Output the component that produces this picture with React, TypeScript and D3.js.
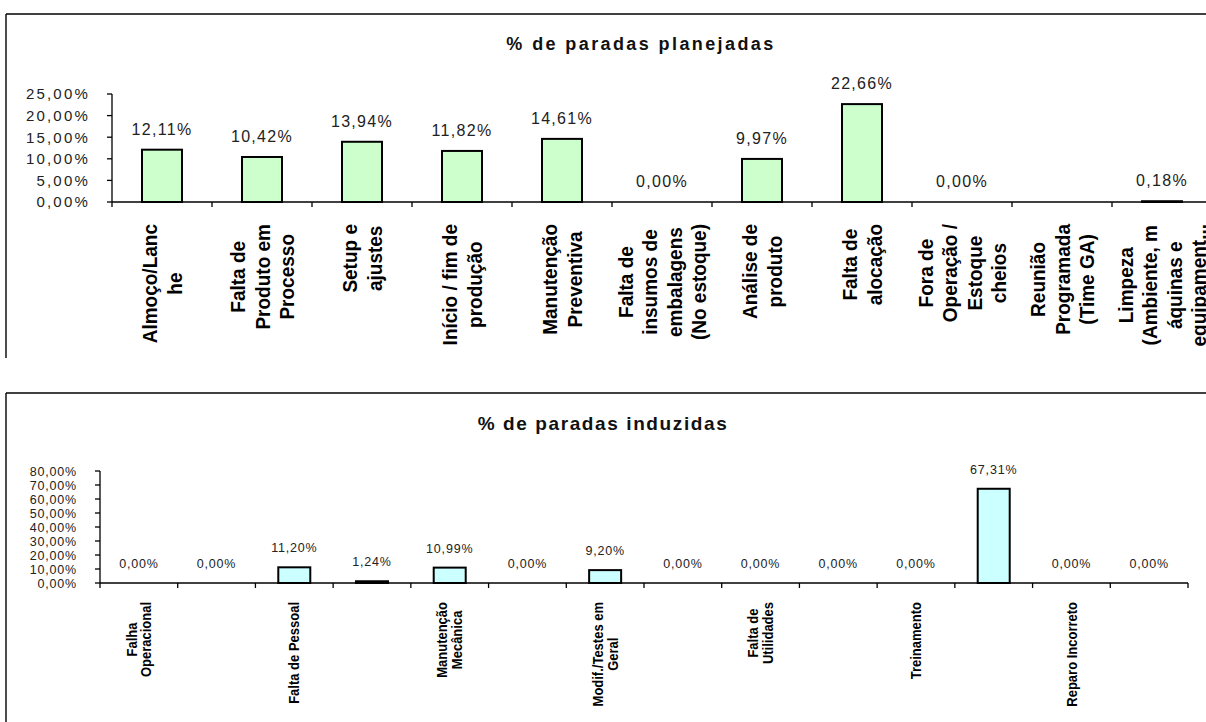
import React, { useEffect, useRef } from 'react';
import * as d3 from 'd3';

// ---------- Data ----------
const plannedTitle = '% de paradas planejadas';
const plannedCategories = [
  'Almoço/Lanc\nhe',
  'Falta de\nProduto em\nProcesso',
  'Setup e\najustes',
  'Início / fim de\nprodução',
  'Manutenção\nPreventiva',
  'Falta de\ninsumos de\nembalagens\n(No estoque)',
  'Análise de\nproduto',
  'Falta de\nalocação',
  'Fora de\nOperação /\nEstoque\ncheios',
  'Reunião\nProgramada\n(Time GA)',
  'Limpeza\n(Ambiente, m\náquinas e\nequipament...',
];
const plannedValues: (number | null)[] = [12.11, 10.42, 13.94, 11.82, 14.61, 0, 9.97, 22.66, 0, null, 0.18];
const plannedTicks = [0, 5, 10, 15, 20, 25];

const inducedTitle = '% de paradas induzidas';
const inducedCategories = [
  'Falha\nOperacional',
  '',
  'Falta de Pessoal',
  '',
  'Manutenção\nMecânica',
  '',
  'Modif./Testes em\nGeral',
  '',
  'Falta de\nUtilidades',
  '',
  'Treinamento',
  '',
  'Reparo Incorreto',
  '',
];
const inducedValues = [0, 0, 11.2, 1.24, 10.99, 0, 9.2, 0, 0, 0, 0, 67.31, 0, 0];
const inducedTicks = [0, 10, 20, 30, 40, 50, 60, 70, 80];

const FONT = '"Liberation Sans", Arial, Helvetica, sans-serif';
const fmt = (v: number) => v.toFixed(2).replace('.', ',') + '%';

interface ChartCfg {
  title: string;
  titleX: number;
  titleY: number;
  titleSize: number;
  titleSpacing: number;
  frameTop: number;
  frameBottom: number;
  categories: string[];
  values: (number | null)[];
  ticks: number[];
  xRange: [number, number];
  axisEnd: number;
  yDomainMax: number;
  yRange: [number, number];
  barWidth: number;
  fill: string;
  tickLabelX: number;
  tickFont: number;
  tickSpacing: number;
  valueFont: number;
  valueSpacing: number;
  valueOffset: number;
  catFont: number;
  catWeight: string;
  catLineH: number;
  catTop: number;
  catStretch: number;
}

function drawChart(root: d3.Selection<SVGGElement, unknown, null, undefined>, c: ChartCfg) {
  const g = root.append('g');
  // frame (cropped)
  g.append('line').attr('x1', 6).attr('x2', 1210).attr('y1', c.frameTop).attr('y2', c.frameTop)
    .attr('stroke', '#000').attr('stroke-width', 1.4);
  g.append('line').attr('x1', 6).attr('x2', 6).attr('y1', c.frameTop).attr('y2', c.frameBottom)
    .attr('stroke', '#000').attr('stroke-width', 1.4);

  // title
  g.append('text').attr('x', c.titleX).attr('y', c.titleY).attr('text-anchor', 'middle')
    .attr('font-family', FONT).attr('font-size', c.titleSize).attr('font-weight', 'bold')
    .attr('letter-spacing', c.titleSpacing).attr('fill', '#111').text(c.title);

  const idx = c.categories.map((_, i) => i);
  const x = d3.scaleBand<number>().domain(idx).range(c.xRange).paddingInner(0).paddingOuter(0);
  const y = d3.scaleLinear().domain([0, c.yDomainMax]).range(c.yRange);
  const bw = x.bandwidth();

  // y axis
  const y0 = y(0);
  g.append('line').attr('x1', c.xRange[0]).attr('x2', c.xRange[0]).attr('y1', y(c.yDomainMax)).attr('y2', y0)
    .attr('stroke', '#000').attr('stroke-width', 1.3);
  g.selectAll('.yt').data(c.ticks).enter().append('line')
    .attr('x1', c.xRange[0] - 5).attr('x2', c.xRange[0]).attr('y1', (d) => y(d)).attr('y2', (d) => y(d))
    .attr('stroke', '#000').attr('stroke-width', 1.3);
  g.selectAll('.yl').data(c.ticks).enter().append('text')
    .attr('x', c.tickLabelX).attr('y', (d) => y(d)).attr('dy', '0.36em').attr('text-anchor', 'end')
    .attr('font-family', FONT).attr('font-size', c.tickFont).attr('letter-spacing', c.tickSpacing)
    .attr('fill', '#222').text((d) => fmt(d));

  // x axis
  g.append('line').attr('x1', c.xRange[0]).attr('x2', c.axisEnd).attr('y1', y0).attr('y2', y0)
    .attr('stroke', '#000').attr('stroke-width', 1.3);
  const bounds = idx.map((i) => x(i) as number).concat([c.xRange[1]]);
  g.selectAll('.xt').data(bounds).enter().append('line')
    .attr('x1', (d) => d).attr('x2', (d) => d).attr('y1', y0).attr('y2', y0 + 5)
    .attr('stroke', '#000').attr('stroke-width', 1.3);

  // bars
  const items = idx.filter((i) => c.values[i] !== null);
  g.selectAll('.bar').data(items).enter().append('rect')
    .attr('x', (i) => (x(i) as number) + bw / 2 - c.barWidth / 2)
    .attr('width', c.barWidth)
    .attr('y', (i) => y(c.values[i] as number))
    .attr('height', (i) => y0 - y(c.values[i] as number))
    .attr('fill', c.fill).attr('stroke', '#000').attr('stroke-width', 2);
  g.selectAll('.vl').data(items).enter().append('text')
    .attr('x', (i) => (x(i) as number) + bw / 2)
    .attr('y', (i) => y(c.values[i] as number) - c.valueOffset)
    .attr('text-anchor', 'middle').attr('font-family', FONT).attr('font-size', c.valueFont)
    .attr('letter-spacing', c.valueSpacing).attr('fill', '#222')
    .text((i) => fmt(c.values[i] as number));

  // category labels (rotated, centered lines, block top-aligned)
  idx.forEach((i) => {
    const label = c.categories[i];
    if (!label) return;
    const lines = label.split('\n');
    const cx = (x(i) as number) + bw / 2;
    const lg = g.append('g')
      .attr('transform', `translate(${cx},${c.catTop}) scale(${c.catStretch},1) rotate(-90)`);
    const lh = c.catLineH / c.catStretch;
    const texts = lines.map((ln, k) =>
      lg.append('text').attr('y', (k - (lines.length - 1) / 2) * lh).attr('dy', '0.36em')
        .attr('text-anchor', 'middle').attr('font-family', FONT).attr('font-size', c.catFont)
        .attr('font-weight', c.catWeight).attr('fill', '#000').text(ln)
    );
    let maxLen = 0;
    texts.forEach((t) => {
      const node = t.node() as SVGTextElement;
      maxLen = Math.max(maxLen, node.getComputedTextLength());
    });
    texts.forEach((t) => t.attr('x', -maxLen / 2));
  });
}

export default function App() {
  const ref = useRef<SVGSVGElement | null>(null);
  useEffect(() => {
    const svg = d3.select(ref.current as SVGSVGElement);
    svg.selectAll('*').remove();
    const root = svg.append('g');
    drawChart(root as any, {
      title: plannedTitle, titleX: 641, titleY: 50, titleSize: 18, titleSpacing: 2.4,
      frameTop: 14, frameBottom: 358,
      categories: plannedCategories, values: plannedValues, ticks: plannedTicks,
      xRange: [112, 1212], axisEnd: 1212, yDomainMax: 25, yRange: [202, 94],
      barWidth: 40, fill: '#CCFFCC',
      tickLabelX: 90, tickFont: 15, tickSpacing: 2.2,
      valueFont: 16, valueSpacing: 1.3, valueOffset: 15,
      catFont: 19, catWeight: 'bold', catLineH: 24.5, catTop: 224, catStretch: 1.1,
    });
    drawChart(root as any, {
      title: inducedTitle, titleX: 603, titleY: 430, titleSize: 19, titleSpacing: 1.6,
      frameTop: 393, frameBottom: 730,
      categories: inducedCategories, values: inducedValues, ticks: inducedTicks,
      xRange: [100, 1188], axisEnd: 1188, yDomainMax: 80, yRange: [583, 471],
      barWidth: 32, fill: '#CCFFFF',
      tickLabelX: 77, tickFont: 12.5, tickSpacing: 0.8,
      valueFont: 12.5, valueSpacing: 0.8, valueOffset: 15,
      catFont: 13, catWeight: 'bold', catLineH: 15, catTop: 602, catStretch: 1.1,
    });
  }, []);
  return (
    <svg ref={ref} width={1206} height={722}
      style={{ position: 'absolute', left: 0, top: 0, background: '#fff' }} />
  );
}
